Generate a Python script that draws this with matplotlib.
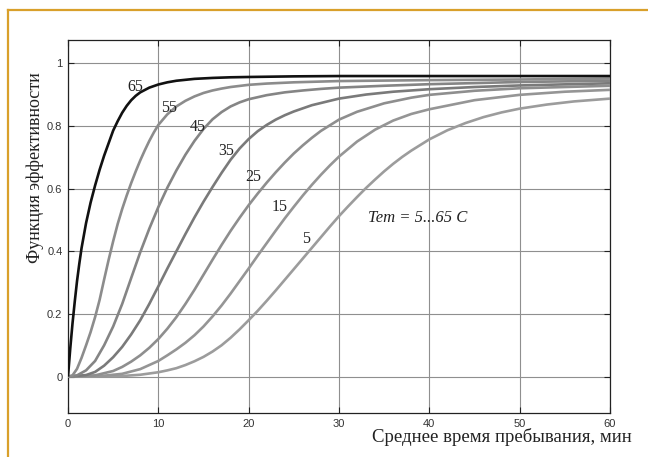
import matplotlib
matplotlib.use("Agg")
import matplotlib.pyplot as plt
from matplotlib.lines import Line2D

# ---- data ----
temps = [5, 15, 25, 35, 45, 55, 65]

x5 = [0, 6, 8, 10, 11, 12, 13, 14, 15, 16, 17, 18, 19, 20, 21, 22, 23, 24, 25, 26, 27, 28, 29, 30,
      31, 32, 33, 34, 35, 36, 37, 38, 40, 42, 44, 46, 48, 50, 53, 56, 60]
y5 = [0, 0.002, 0.006, 0.014, 0.02, 0.027, 0.037, 0.049, 0.063, 0.08, 0.1, 0.124, 0.151, 0.18, 0.21,
      0.242, 0.275, 0.309, 0.343, 0.377, 0.411, 0.445, 0.479, 0.512, 0.543, 0.573, 0.602, 0.629, 0.655,
      0.679, 0.701, 0.721, 0.757, 0.786, 0.809, 0.828, 0.843, 0.855, 0.868, 0.878, 0.887]

x15 = [0, 4, 6, 8, 10, 11, 12, 13, 14, 15, 16, 17, 18, 19, 20, 21, 22, 23, 24, 25, 26, 27, 28, 29, 30,
       32, 34, 36, 38, 40, 45, 50, 55, 60]
y15 = [0, 0.003, 0.009, 0.024, 0.05, 0.068, 0.087, 0.108, 0.132, 0.16, 0.192, 0.227, 0.265, 0.305, 0.345,
       0.386, 0.426, 0.466, 0.505, 0.542, 0.578, 0.612, 0.644, 0.674, 0.702, 0.75, 0.788, 0.817, 0.838,
       0.853, 0.882, 0.899, 0.909, 0.915]

x25 = [0, 3, 5, 6, 7, 8, 9, 10, 11, 12, 13, 14, 15, 16, 17, 18, 19, 20, 21, 22, 23, 24, 25, 26, 27, 28,
       30, 32, 35, 38, 40, 45, 50, 60]
y25 = [0, 0.004, 0.018, 0.031, 0.048, 0.068, 0.092, 0.12, 0.153, 0.19, 0.232, 0.277, 0.325, 0.373, 0.42,
       0.465, 0.507, 0.547, 0.584, 0.619, 0.652, 0.683, 0.712, 0.738, 0.762, 0.784, 0.82, 0.845, 0.872,
       0.89, 0.899, 0.912, 0.92, 0.928]

x35 = [0, 2, 3, 4, 5, 6, 7, 8, 9, 10, 11, 12, 13, 14, 15, 16, 17, 18, 19, 20, 21, 22, 23, 24, 25, 27,
       30, 33, 36, 40, 45, 50, 60]
y35 = [0, 0.005, 0.015, 0.035, 0.062, 0.095, 0.135, 0.18, 0.232, 0.288, 0.345, 0.4, 0.455, 0.508, 0.558,
       0.605, 0.65, 0.692, 0.728, 0.758, 0.783, 0.803, 0.82, 0.834, 0.846, 0.866, 0.887, 0.9, 0.909,
       0.917, 0.924, 0.929, 0.936]

x45 = [0, 1, 2, 3, 4, 5, 6, 7, 8, 9, 10, 11, 12, 13, 14, 15, 16, 17, 18, 19, 20, 22, 24, 26, 28, 30,
       35, 40, 50, 60]
y45 = [0, 0.004, 0.02, 0.05, 0.1, 0.16, 0.232, 0.315, 0.397, 0.472, 0.541, 0.603, 0.658, 0.708, 0.752,
       0.79, 0.821, 0.844, 0.862, 0.875, 0.885, 0.898, 0.907, 0.913, 0.918, 0.922, 0.928, 0.933, 0.94,
       0.944]

x55 = [0, 0.5, 1, 1.5, 2, 2.5, 3, 3.5, 4, 4.5, 5, 5.5, 6, 6.5, 7, 7.5, 8, 8.5, 9, 9.5, 10, 11, 12, 13,
       14, 15, 16, 17, 18, 20, 22, 25, 30, 40, 50, 60]
y55 = [0, 0.004, 0.025, 0.06, 0.1, 0.142, 0.19, 0.245, 0.31, 0.373, 0.432, 0.487, 0.535, 0.578, 0.618,
       0.655, 0.69, 0.722, 0.752, 0.779, 0.803, 0.837, 0.862, 0.88, 0.894, 0.905, 0.913, 0.919, 0.924,
       0.931, 0.935, 0.939, 0.943, 0.946, 0.948, 0.951]

x65 = [0, 0.25, 0.5, 0.75, 1.0, 1.25, 1.5, 1.75, 2.0, 2.5, 3.0, 3.5, 4.0, 4.5, 5.0, 5.5, 6.0, 6.5, 7.0,
       7.5, 8, 9, 10, 11, 12, 14, 16, 18, 20, 25, 30, 60]
y65 = [0, 0.09, 0.17, 0.24, 0.305, 0.36, 0.41, 0.45, 0.49, 0.555, 0.61, 0.66, 0.705, 0.745, 0.785, 0.815,
       0.842, 0.864, 0.882, 0.896, 0.907, 0.922, 0.932, 0.939, 0.944, 0.95, 0.953, 0.955, 0.956, 0.958,
       0.959, 0.959]

series_x = [x5, x15, x25, x35, x45, x55, x65]
series_y = [y5, y15, y25, y35, y45, y55, y65]
colors = ['#9c9c9c', '#959595', '#8e8e8e', '#7a7a7a', '#858585', '#8c8c8c', '#111111']

label_pos = {65: (7.5, 0.923), 55: (11.2, 0.856), 45: (14.4, 0.795), 35: (17.5, 0.72),
             25: (20.5, 0.636), 15: (23.4, 0.542), 5: (26.4, 0.44)}

xticks = [0, 10, 20, 30, 40, 50, 60]
yticks = [0, 0.2, 0.4, 0.6, 0.8, 1]
ytick_labels = ['0', '0.2', '0.4', '0.6', '0.8', '1']

W, H = 648, 457
fig = plt.figure(figsize=(W / 100, H / 100), dpi=100)
ax = fig.add_axes([68 / W, 1 - 413.3 / H, (610 - 68) / W, (413.3 - 40) / H])

ax.set_xlim(0, 60)
ax.set_ylim(-0.117, 1.074)
ax.set_xticks(xticks)
ax.set_yticks(yticks)
ax.set_xticklabels([str(t) for t in xticks])
ax.set_yticklabels(ytick_labels)
ax.grid(True, color='#8f8f8f', linewidth=0.8)
ax.set_axisbelow(True)
ax.tick_params(direction='in', length=4, width=0.8, color='#222222',
               top=True, right=True, labelsize=8, labelcolor='#333333', pad=4)
for lab in ax.get_xticklabels() + ax.get_yticklabels():
    lab.set_family('Liberation Sans')
for s in ax.spines.values():
    s.set_color('#222222')
    s.set_linewidth(0.9)

for xs, ys, c, t in zip(series_x, series_y, colors, temps):
    ax.plot(xs, ys, color=c, linewidth=1.9, solid_joinstyle='round',
            solid_capstyle='butt', zorder=3 if t != 65 else 4)

for t in temps:
    px, py = label_pos[t]
    ax.text(px, py, str(t), family='Liberation Serif', fontsize=11.5, color='#222222',
            ha='center', va='center', zorder=5)

ax.text(33.2, 0.505, 'Tem = 5...65 C', family='Liberation Serif', style='italic',
        fontsize=12, color='#222222', ha='left', va='center', zorder=5)

fig.text(35 / W, 1 - 168 / H, 'Функция эффективности', family='Liberation Serif',
         fontsize=13, color='#222222', rotation=90, ha='center', va='center')
fig.text(632 / W, 1 - 437 / H, 'Среднее время пребывания, мин', family='Liberation Serif',
         fontsize=13.5, color='#222222', ha='right', va='center')

# orange frame lines
fig.add_artist(Line2D([8 / W, 1.0], [1 - 10 / H, 1 - 10 / H], color='#d9a02b', linewidth=1.6,
                      transform=fig.transFigure))
fig.add_artist(Line2D([8 / W, 8 / W], [0, 1 - 10 / H], color='#d9a02b', linewidth=1.6,
                      transform=fig.transFigure))

fig.savefig('out.png', dpi=100)
